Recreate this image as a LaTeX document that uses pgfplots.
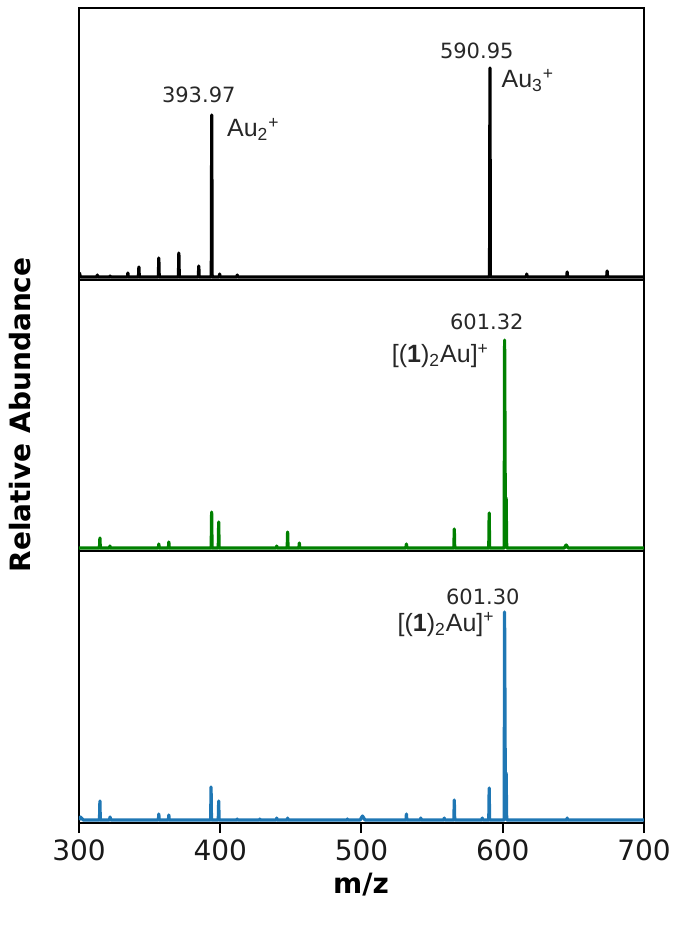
\documentclass[border=0pt]{standalone}
\usepackage{pgfplots}
\pgfplotsset{compat=1.18}
\usepackage{fontspec}
\setmainfont{DejaVu Sans}
\newfontfamily\arialfont{Liberation Sans}
\definecolor{mplgreen}{RGB}{0,128,0}
\definecolor{mplblue}{RGB}{31,119,180}
\definecolor{anno}{RGB}{40,40,40}
\pgfplotsset{
  panel/.style={scale only axis, width=282.5pt, xmin=300, xmax=700,
    ytick=\empty, axis line style={line width=1.2pt}, anchor=south west},
  spec/.style={line width=1.6pt, line join=round, mark=none, sharp plot},
}
\tikzset{
  numlab/.style={font=\fontsize{10.5}{12}\selectfont, text=anno, inner sep=0pt},
  ionlab/.style={font=\arialfont\fontsize{12.5}{14}\selectfont, text=black!85, inner sep=0pt},
}
\begin{document}
\begin{tikzpicture}
\path[use as bounding box] (-39.5pt,-54pt) rectangle (301.5pt,411.5pt);
% ---------------- top panel (black)
\begin{axis}[panel, at={(0pt,271.5pt)}, height=136pt, ymin=-3, ymax=269, xtick=\empty]
\addplot[spec, black] coordinates {
(300,0)(300.3,4)(301,0)
(312.7,0)(313,2)(313.3,0)
(321.7,0)(322,1)(322.3,0)
(334.3,0)(334.6,4)(334.9,0)
(342.1,0)(342.4,10)(342.7,0)
(356.2,0)(356.5,19)(356.8,0)
(370.4,0)(370.7,24)(371,0)
(384.5,0)(384.8,11)(385.1,0)
(393.67,0)(393.97,162)(394.27,0)
(399.3,0)(399.6,3)(399.9,0)
(411.7,0)(412,2)(412.3,0)
(590.65,0)(590.95,209)(591.25,0)
(616.7,0)(617,3)(617.3,0)
(645.3,0)(645.6,5)(645.9,0)
(673.6,0)(673.9,6)(674.2,0)
(700,0)};
\node[numlab] at (axis cs:384.8,182) {393.97};
\node[ionlab, anchor=base west] at (axis cs:404.6,140) {Au\textsubscript{2}\textsuperscript{+}};
\node[numlab] at (axis cs:581.6,226) {590.95};
\node[ionlab, anchor=base west] at (axis cs:598.9,189) {Au\textsubscript{3}\textsuperscript{+}};
\end{axis}
% ---------------- middle panel (green)
\begin{axis}[panel, at={(0pt,136pt)}, height=135.5pt, ymin=-3, ymax=268, xtick=\empty]
\addplot[spec, mplgreen] coordinates {
(300,0)
(314.5,0)(314.8,10)(315.1,0)
(321.6,0)(321.9,2)(322.2,0)
(356.2,0)(356.5,4)(356.8,0)
(363.3,0)(363.6,6)(363.9,0)
(393.6,0)(393.9,36)(394.2,0)
(398.6,0)(398.9,26)(399.2,0)
(439.7,0)(440,2)(440.3,0)
(447.4,0)(447.7,16)(448,0)
(455.7,0)(456,5)(456.3,0)
(531.4,0)(531.8,4)(532.2,0)
(565.4,0)(565.7,19)(566,0)
(590.1,0)(590.4,35)(590.7,0)
(601.0,0)(601.32,208)(601.8,40)(602.4,50)(602.8,0)
(643.5,0)(644.9,3)(646.3,0)
(700,0)};
\node[numlab] at (axis cs:588.7,226) {601.32};
\node[ionlab, anchor=base east] at (axis cs:590.5,185) {[(\textbf{1})\textsubscript{2}Au]\textsuperscript{+}};
\end{axis}
% ---------------- bottom panel (blue)
\begin{axis}[panel, at={(0pt,0pt)}, height=136pt, ymin=-3, ymax=269,
  xtick={300,400,500,600,700}, xtick pos=bottom, tick align=outside,
  major tick length=5pt, tick style={line width=1pt, black},
  xticklabel style={font=\fontsize{14}{16}\selectfont, text=black!90},
  /pgf/number format/assume math mode=true]
\addplot[spec, mplblue] coordinates {
(300,0)(301,3)(303,0)
(314.5,0)(314.8,19)(315.1,0)
(321.5,0)(322,3)(322.5,0)
(356.2,0)(356.5,6)(356.8,0)
(363.3,0)(363.6,5)(363.9,0)
(393.2,0)(393.5,33)(393.8,0)
(398.6,0)(398.9,19)(399.2,0)
(411.7,0)(412,1)(412.3,0)
(427.7,0)(428,1)(428.3,0)
(439.7,0)(440,2)(440.3,0)
(447.4,0)(447.7,2)(448,0)
(489.7,0)(490,1)(490.3,0)
(499,0)(500.7,4)(502.5,0)
(531.5,0)(531.8,6)(532.1,0)
(541.7,0)(542,2)(542.3,0)
(558.3,0)(558.6,2)(558.9,0)
(565.4,0)(565.7,20)(566,0)
(585.2,0)(585.5,2)(585.8,0)
(590.1,0)(590.4,32)(590.7,0)
(601.0,0)(601.30,208)(601.8,38)(602.4,47)(602.8,0)
(645.3,0)(645.6,2)(645.9,0)
(700,0)};
\node[numlab] at (axis cs:585.9,223.5) {601.30};
\node[ionlab, anchor=base east] at (axis cs:594.5,188.5) {[(\textbf{1})\textsubscript{2}Au]\textsuperscript{+}};
\end{axis}
\node[font=\bfseries\fontsize{14}{16}\selectfont] at (141pt,-31pt) {m/z};
\node[rotate=90, font=\bfseries\fontsize{14}{16}\selectfont] at (-29.5pt,204pt) {Relative Abundance};
\end{tikzpicture}
\end{document}
